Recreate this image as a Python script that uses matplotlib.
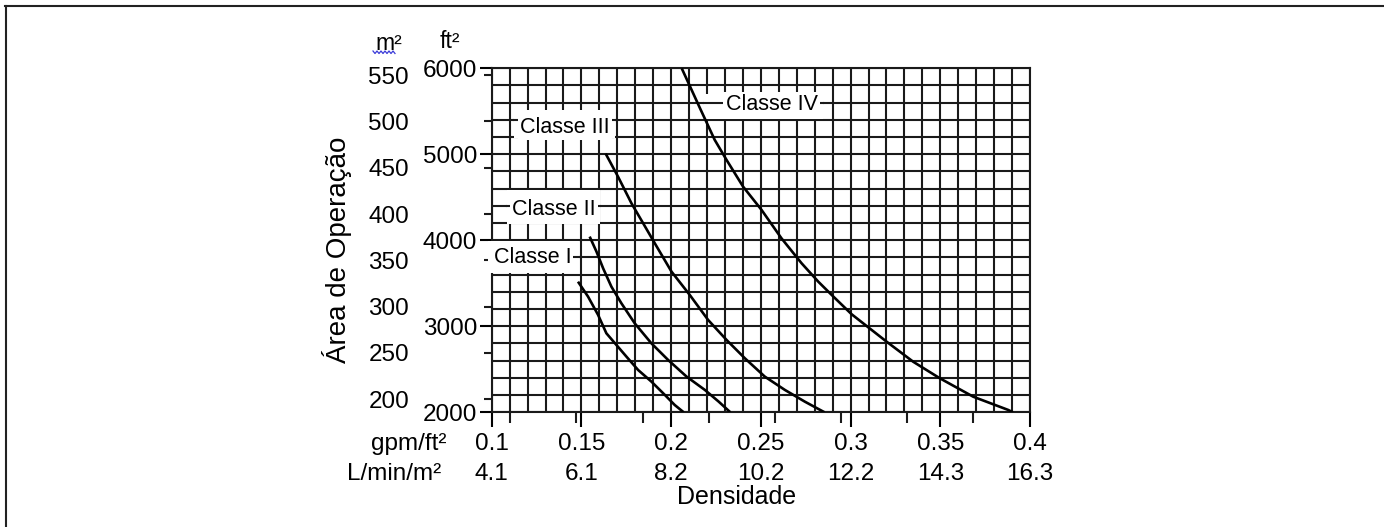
import matplotlib
matplotlib.use("Agg")
import matplotlib.pyplot as plt
from matplotlib.patches import Rectangle
from matplotlib.lines import Line2D
from matplotlib.ticker import MultipleLocator
import numpy as np

plt.rcParams['font.family'] = ['Liberation Sans', 'DejaVu Sans']

# --- DADOS ---
gpm_ticks = [0.1, 0.15, 0.2, 0.25, 0.3, 0.35, 0.4]
gpm_labels = ['0.1', '0.15', '0.2', '0.25', '0.3', '0.35', '0.4']
lmin_labels = ['4.1', '6.1', '8.2', '10.2', '12.2', '14.3', '16.3']
lmin_ticks = [4.5, 6, 7.5, 9, 10.5, 12, 13.5, 15]
ft2_ticks = [2000, 3000, 4000, 5000, 6000]
m2_ticks = [200, 250, 300, 350, 400, 450, 500, 550]

classe1_gpm = [0.1481, 0.1537, 0.1593, 0.1639, 0.1695, 0.1751, 0.1816, 0.1890, 0.1965, 0.2020, 0.2070]
classe1_ft2 = [3519, 3345, 3132, 2919, 2783, 2647, 2492, 2357, 2202, 2085, 2000]

classe2_gpm = [0.1546, 0.1584, 0.1621, 0.1667, 0.1723, 0.1797, 0.1890, 0.1983, 0.2086, 0.2188,
               0.2265, 0.2330]
classe2_ft2 = [4043, 3868, 3674, 3461, 3267, 3035, 2802, 2609, 2415, 2260, 2124, 2000]

classe3_gpm = [0.1635, 0.1704, 0.1779, 0.1844, 0.1909, 0.2002, 0.2104, 0.2206, 0.2309, 0.2411,
               0.2522, 0.2634, 0.2745, 0.2855]
classe3_ft2 = [5008, 4740, 4430, 4198, 3965, 3636, 3364, 3074, 2841, 2628, 2415, 2260, 2124, 2000]

classe4_gpm = [0.2059, 0.2161, 0.2243, 0.2309, 0.2401, 0.2504, 0.2615, 0.2727, 0.2820, 0.2895,
               0.3006, 0.3201, 0.3349, 0.3498, 0.3684, 0.3879, 0.3905]
classe4_ft2 = [6000, 5535, 5167, 4934, 4624, 4353, 4023, 3733, 3519, 3364, 3140, 2821, 2588,
               2395, 2181, 2027, 2000]

GPM_TO_LMIN = 40.746
FT2_TO_M2 = 0.092903

W, H = 1384, 527
GRID_COLOR = '#1a1a1a'
TICK_FS = 17.5


def fx(px):
    return px / W


def fy(py):
    return 1 - py / H


def label_box(ax, text, x0, x1, y0, y1, ymid, tx, ty):
    # caixa branca por cima da grelha, linha do meio por cima da caixa
    ax.add_patch(Rectangle((x0, y0), x1 - x0, y1 - y0, facecolor='white',
                           edgecolor='none', zorder=3, clip_on=False))
    ax.plot([x0, x1], [ymid, ymid], color=GRID_COLOR, lw=1.5, zorder=3.2)
    ax.text(tx, ty, text, ha='center', va='baseline', fontsize=15.5, zorder=4,
            bbox=dict(facecolor='white', edgecolor='none', pad=1.5))


fig = plt.figure(figsize=(W / 100, H / 100), dpi=100)
ax = fig.add_axes([fx(491.7), fy(412.3), (1030 - 491.7) / W, (412.3 - 68.3) / H])

ax.set_xlim(0.1, 0.4)
ax.set_ylim(2000, 6000)

# grelha
ax.xaxis.set_minor_locator(MultipleLocator(0.01))
ax.yaxis.set_minor_locator(MultipleLocator(200))
ax.grid(which='both', color=GRID_COLOR, lw=1.5)
for s in ax.spines.values():
    s.set_linewidth(1.5)
    s.set_color(GRID_COLOR)

# eixo x principal (gpm/ft2)
ax.set_xticks(gpm_ticks, labels=gpm_labels)
ax.tick_params(axis='x', which='major', length=10.8, width=1.5, pad=4, labelsize=TICK_FS)
ax.tick_params(which='minor', length=0)

# eixo y principal (ft2)
ax.set_yticks(ft2_ticks)
ax.tick_params(axis='y', which='major', length=8.4, width=1.5, pad=2, labelsize=TICK_FS)

# eixo x secundario (L/min/m2)
sec_x = ax.secondary_xaxis('bottom', functions=(lambda g: g * GPM_TO_LMIN, lambda l: l / GPM_TO_LMIN))
sec_x.set_ticks(lmin_ticks)
sec_x.set_ticks([g * GPM_TO_LMIN for g in gpm_ticks], labels=lmin_labels, minor=True)
sec_x.tick_params(which='major', length=8, width=1.5, labelbottom=False, color=GRID_COLOR)
sec_x.tick_params(which='minor', length=0, pad=36.5, labelsize=TICK_FS)
for s in sec_x.spines.values():
    s.set_visible(False)

# eixo y secundario (m2)
sec_y = ax.secondary_yaxis('left', functions=(lambda f: f * FT2_TO_M2, lambda m: m / FT2_TO_M2))
sec_y.set_ticks(m2_ticks)
sec_y.tick_params(length=6, width=1.5, pad=53.5, labelsize=TICK_FS, color=GRID_COLOR)
for s in sec_y.spines.values():
    s.set_visible(False)

# curvas
for xs, ys in [(classe1_gpm, classe1_ft2), (classe2_gpm, classe2_ft2),
               (classe3_gpm, classe3_ft2), (classe4_gpm, classe4_ft2)]:
    ax.plot(xs, ys, color='black', lw=1.9, zorder=5, solid_capstyle='butt',
            solid_joinstyle='round')

# rotulos das classes
label_box(ax, 'Classe IV', 0.2185, 0.2846, 5410, 5700, 5600, 0.256, 5515)
label_box(ax, 'Classe III', 0.1123, 0.1687, 5190, 5520, 5400, 0.1409, 5248)
label_box(ax, 'Classe II', 0.1085, 0.1605, 4190, 4590, 4400, 0.1347, 4294)
label_box(ax, 'Classe I', 0.0980, 0.1485, 3620, 3990, 3800, 0.1227, 3733)

# textos das unidades
fig.text(fx(389), fy(50), 'm\u00b2', ha='center', va='baseline', fontsize=16.5)
fig.text(fx(450), fy(48.3), 'ft\u00b2', ha='center', va='baseline', fontsize=16.5)
fig.text(fx(446.7), fy(450), 'gpm/ft\u00b2', ha='right', va='baseline', fontsize=TICK_FS)
fig.text(fx(441.7), fy(480), 'L/min/m\u00b2', ha='right', va='baseline', fontsize=TICK_FS)
fig.text(fx(737), fy(497), 'Densidade', ha='center', va='center', fontsize=18)
fig.text(fx(337), fy(250), '\u00c1rea de Opera\u00e7\u00e3o', ha='center', va='center',
         rotation=90, fontsize=20)

# sublinhado ondulado azul por baixo do "m"
wx = np.linspace(373, 395, 12)
wy = [51 if i % 2 == 0 else 53.5 for i in range(len(wx))]
fig.add_artist(Line2D([fx(v) for v in wx], [fy(v) for v in wy], color='#3a3ad8', lw=0.9))

# moldura (topo e esquerda)
fig.add_artist(Line2D([fx(5), fx(W)], [fy(6), fy(6)], color='#222222', lw=1.5))
fig.add_artist(Line2D([fx(5.5), fx(5.5)], [fy(6), fy(H)], color='#222222', lw=1.5))

fig.savefig('out.png', dpi=100)
